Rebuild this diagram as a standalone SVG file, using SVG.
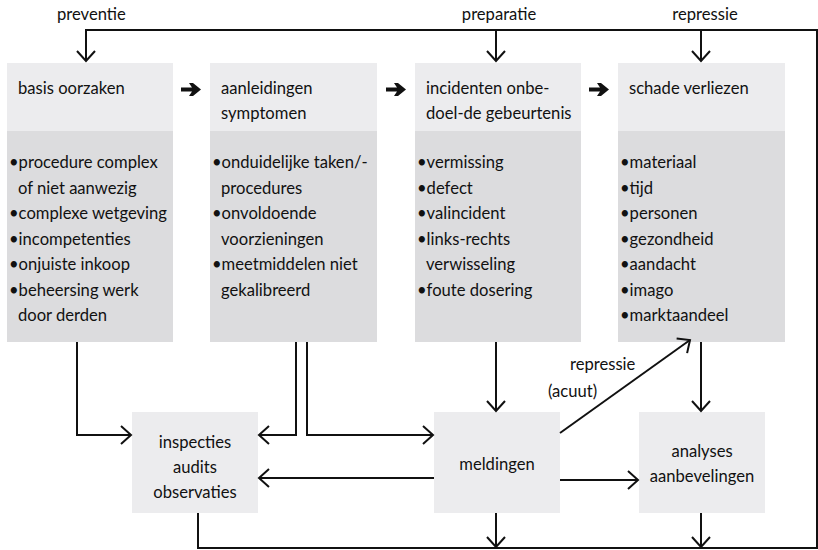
<svg xmlns="http://www.w3.org/2000/svg" width="818" height="550" viewBox="0 0 818 550">
  <style>
    .hd { fill: #ececee; }
    .bd { fill: #dcdcde; }
    .t { font-family: Lato, "Open Sans", sans-serif; font-size: 16.6px; fill: #111; }
    .c { text-anchor: middle; }
    .ln { fill: none; stroke: #111; stroke-width: 2; }
    .ar { marker-end: url(#ah); }
  </style>
  <defs>
    <marker id="ah" viewBox="-12 -11 14 22" markerWidth="14" markerHeight="22" refX="0" refY="0" orient="auto" markerUnits="userSpaceOnUse">
      <path d="M-10,-9 L0,0 L-10,9" fill="none" stroke="#111" stroke-width="2"/>
    </marker>
    <path id="bold-arrow" d="M0,-2 H11 L8,-6.5 H12 L20,0 L12,6.5 H8 L11,2 H0 Z" fill="#111"/>
  </defs>

  <rect width="818" height="550" fill="#fff"/>

  <!-- top row: header + bullet list per stage -->
  <g id="basis-oorzaken">
    <rect class="hd" x="7" y="63" width="166" height="68"/>
    <rect class="bd" x="7" y="131" width="166" height="211"/>
    <text class="t" x="18" y="94">basis oorzaken</text>
    <text class="t" x="9" y="168">•procedure complex</text>
    <text class="t" x="18" y="194">of niet aanwezig</text>
    <text class="t" x="9" y="219">•complexe wetgeving</text>
    <text class="t" x="9" y="245">•incompetenties</text>
    <text class="t" x="9" y="270">•onjuiste inkoop</text>
    <text class="t" x="9" y="296">•beheersing werk</text>
    <text class="t" x="18" y="321">door derden</text>
  </g>

  <g id="aanleidingen">
    <rect class="hd" x="210" y="63" width="167" height="68"/>
    <rect class="bd" x="210" y="131" width="167" height="211"/>
    <text class="t" x="221" y="94">aanleidingen</text>
    <text class="t" x="221" y="119">symptomen</text>
    <text class="t" x="212" y="168">•onduidelijke taken/-</text>
    <text class="t" x="221" y="194">procedures</text>
    <text class="t" x="212" y="219">•onvoldoende</text>
    <text class="t" x="221" y="245">voorzieningen</text>
    <text class="t" x="212" y="270">•meetmiddelen niet</text>
    <text class="t" x="221" y="296">gekalibreerd</text>
  </g>

  <g id="incidenten">
    <rect class="hd" x="415" y="63" width="166" height="68"/>
    <rect class="bd" x="415" y="131" width="166" height="211"/>
    <text class="t" x="426" y="94">incidenten onbe-</text>
    <text class="t" x="426" y="119">doel-de gebeurtenis</text>
    <text class="t" x="417" y="168">•vermissing</text>
    <text class="t" x="417" y="194">•defect</text>
    <text class="t" x="417" y="219">•valincident</text>
    <text class="t" x="417" y="245">•links-rechts</text>
    <text class="t" x="426" y="270">verwisseling</text>
    <text class="t" x="417" y="296">•foute dosering</text>
  </g>

  <g id="schade">
    <rect class="hd" x="618" y="63" width="167" height="68"/>
    <rect class="bd" x="618" y="131" width="167" height="211"/>
    <text class="t" x="629" y="94">schade verliezen</text>
    <text class="t" x="620" y="168">•materiaal</text>
    <text class="t" x="620" y="194">•tijd</text>
    <text class="t" x="620" y="219">•personen</text>
    <text class="t" x="620" y="245">•gezondheid</text>
    <text class="t" x="620" y="270">•aandacht</text>
    <text class="t" x="620" y="296">•imago</text>
    <text class="t" x="620" y="321">•marktaandeel</text>
  </g>

  <!-- bottom row -->
  <g id="inspecties">
    <rect class="hd" x="132" y="412" width="126" height="101"/>
    <text class="t c" x="195" y="448">inspecties</text>
    <text class="t c" x="195" y="473">audits</text>
    <text class="t c" x="195" y="498">observaties</text>
  </g>

  <g id="meldingen">
    <rect class="hd" x="434" y="412" width="126" height="101"/>
    <text class="t c" x="497" y="470">meldingen</text>
  </g>

  <g id="analyses">
    <rect class="hd" x="639" y="412" width="126" height="101"/>
    <text class="t c" x="702" y="457">analyses</text>
    <text class="t c" x="702" y="482">aanbevelingen</text>
  </g>

  <!-- connectors -->
  <g id="connectors">
    <use href="#bold-arrow" x="181" y="89.5"/>
    <use href="#bold-arrow" x="386" y="89.5"/>
    <use href="#bold-arrow" x="589" y="89.5"/>

    <!-- feedback loop -->
    <path class="ln ar" d="M198,513 V548 H817 V30 H86 V61"/>
    <path class="ln ar" d="M496,30 V61"/>
    <path class="ln ar" d="M701,30 V61"/>

    <path class="ln ar" d="M77,342 V435 H131"/>
    <path class="ln ar" d="M296,342 V435 H259"/>
    <path class="ln ar" d="M307,342 V435 H433"/>
    <path class="ln ar" d="M434,478 H259"/>

    <path class="ln ar" d="M496,342 V411"/>
    <path class="ln ar" d="M496,513 V547"/>
    <path class="ln ar" d="M701,342 V411"/>
    <path class="ln ar" d="M701,513 V547"/>

    <path class="ln ar" d="M560,480 H638"/>
    <path class="ln ar" d="M560,433 L690,340"/>

    <text class="t" x="57" y="20">preventie</text>
    <text class="t c" x="499" y="20">preparatie</text>
    <text class="t c" x="705" y="20">repressie</text>
    <text class="t" x="570" y="370">repressie</text>
    <text class="t" x="548" y="397">(acuut)</text>
  </g>
</svg>
